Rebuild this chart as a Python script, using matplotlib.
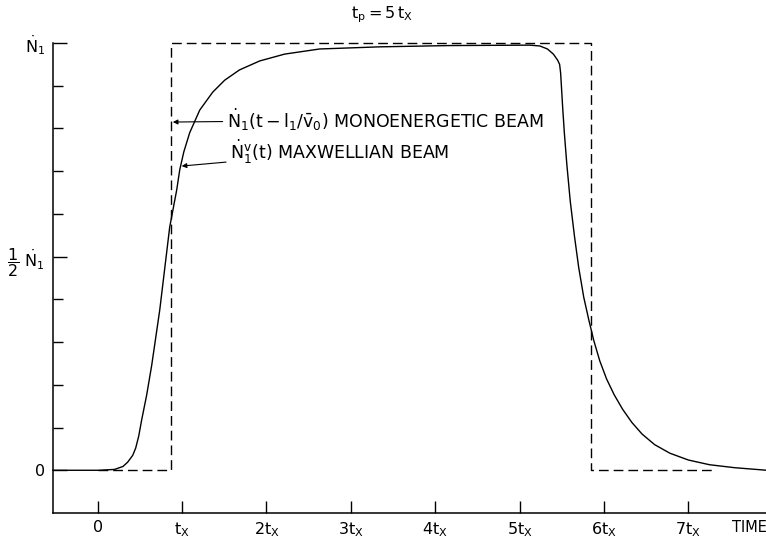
# -*- coding: utf-8 -*-

'''
Pulso de feixe: monoenergetico x maxwelliano
'''

import matplotlib
matplotlib.use('Agg')
import matplotlib.pyplot as plt

plt.rcParams['font.family'] = ['DejaVu Sans']
plt.rcParams['mathtext.fontset'] = 'dejavusans'
plt.rcParams['font.size'] = 10

# tempo em unidades de t_x, fluxo em unidades de N1
T_MAXW = [-0.53, 0.02, 0.20, 0.30, 0.355, 0.415, 0.45, 0.486, 0.52, 0.58,
          0.64, 0.735, 0.853, 0.936, 0.972, 1.02, 1.09, 1.209, 1.363, 1.505,
          1.68, 1.92, 2.215, 2.63, 3.34, 4.17, 5.12, 5.24, 5.33, 5.40, 5.45,
          5.474, 5.486, 5.498, 5.51, 5.53, 5.56, 5.60, 5.65, 5.70, 5.76,
          5.82, 5.88, 5.95, 6.03, 6.12, 6.22, 6.33, 6.45, 6.60, 6.78, 7.00,
          7.25, 7.55, 7.93]
N_MAXW = [0.0, 0.0, 0.002, 0.009, 0.019, 0.035, 0.052, 0.080, 0.117, 0.176,
          0.246, 0.375, 0.569, 0.656, 0.703, 0.745, 0.790, 0.843, 0.885,
          0.913, 0.937, 0.958, 0.974, 0.986, 0.991, 0.994, 0.995, 0.993,
          0.986, 0.974, 0.960, 0.950, 0.930, 0.890, 0.850, 0.790, 0.715,
          0.630, 0.548, 0.475, 0.405, 0.352, 0.303, 0.256, 0.214, 0.177,
          0.143, 0.112, 0.085, 0.060, 0.040, 0.024, 0.013, 0.006, 0.0]

T_MONO = [0.0, 0.865, 0.865, 5.85, 5.85, 7.29]
N_MONO = [0.0, 0.0, 1.0, 1.0, 0.0, 0.0]

X_TICKS = [0, 1, 2, 3, 4, 5, 6, 7]
X_LABELS = ['0', r'$\mathrm{t}_\mathrm{X}$', r'$2\mathrm{t}_\mathrm{X}$',
            r'$3\mathrm{t}_\mathrm{X}$', r'$4\mathrm{t}_\mathrm{X}$',
            r'$5\mathrm{t}_\mathrm{X}$', r'$6\mathrm{t}_\mathrm{X}$',
            r'$7\mathrm{t}_\mathrm{X}$']
Y_TICKS = [0, 0.5, 1.0]
Y_LABELS = ['0', r'$\dfrac{1}{2}\ \dot{\mathrm{N}}_1$', r'$\dot{\mathrm{N}}_1$']
Y_MENOR = [0.1, 0.2, 0.3, 0.4, 0.6, 0.7, 0.8, 0.9]

fig = plt.figure(figsize=(7.66, 5.42), dpi=100)
ax = fig.add_axes([53 / 766, 1 - 513 / 542, 1 - 53 / 766, (513 - 43) / 542])

ax.plot(T_MAXW, N_MAXW, color='k', lw=1.0, clip_on=False)
ax.plot(T_MONO, N_MONO, color='k', lw=1.0, ls=(0, (7, 3.6)), clip_on=False)

ax.set_xlim(-0.53, 7.92)
ax.set_ylim(-0.1, 1.0)

for lado in ['top', 'right']:
    ax.spines[lado].set_visible(False)
for lado in ['left', 'bottom']:
    ax.spines[lado].set_linewidth(1.1)

ax.set_xticks(X_TICKS, X_LABELS)
ax.set_yticks(Y_TICKS, Y_LABELS)
ax.set_yticks(Y_MENOR, minor=True)
ax.tick_params(axis='x', direction='in', length=9, width=1, pad=5,
               labelsize=11.5)
ax.tick_params(axis='y', which='major', direction='in', length=10, width=1,
               pad=6, labelsize=11.5)
ax.tick_params(axis='y', which='minor', direction='in', length=7, width=1)

ax.annotate('TIME', xy=(7.72, 0), xycoords=('data', 'axes fraction'),
            xytext=(0, -5), textcoords='offset points',
            ha='center', va='top', fontsize=10.5)

fig.text(0.499, 0.972, r'$\mathrm{t_p = 5\,t_X}$', ha='center',
         va='center', fontsize=11.5)

seta = dict(arrowstyle='-|>', lw=0.8, color='k', mutation_scale=7,
            shrinkA=1, shrinkB=0)
ax.annotate(r'$\dot{\mathrm{N}}_1(\mathrm{t}-\mathrm{l}_1/\bar{\mathrm{v}}_0)$'
            ' MONOENERGETIC BEAM',
            xy=(0.89, 0.815), xytext=(1.53, 0.82), ha='left', va='center',
            fontsize=12.5, arrowprops=seta)
ax.annotate(r'$\dot{\mathrm{N}}_1^\mathrm{v}(\mathrm{t})$ MAXWELLIAN BEAM',
            xy=(0.995, 0.712), xytext=(1.57, 0.745), ha='left', va='center',
            fontsize=12.5, arrowprops=seta)

fig.savefig('out.png', dpi=100)
